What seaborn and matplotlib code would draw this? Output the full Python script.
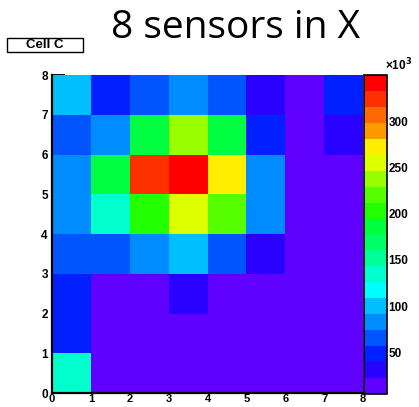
import numpy as np
import pandas as pd
import matplotlib
matplotlib.use("Agg")
import matplotlib.pyplot as plt
from matplotlib.colors import ListedColormap
from matplotlib.patches import Rectangle
import seaborn as sns

# ---- data (values in units of 10^3), rows y=0..7 (bottom to top), columns x=0..7
x_bins = [0, 1, 2, 3, 4, 5, 6, 7]
row_y0 = [134, 12, 10, 11, 9, 8, 7, 5]
row_y1 = [48, 14, 12, 13, 11, 9, 8, 6]
row_y2 = [50, 17, 19, 28, 16, 12, 9, 7]
row_y3 = [66, 64, 84, 101, 62, 32, 17, 10]
row_y4 = [86, 136, 205, 256, 222, 82, 19, 11]
row_y5 = [85, 187, 325, 350, 270, 83, 20, 12]
row_y6 = [68, 88, 185, 240, 188, 46, 18, 26]
row_y7 = [104, 47, 63, 85, 65, 30, 21, 42]
tick_values = [0, 1, 2, 3, 4, 5, 6, 7, 8]
cbar_ticks = [50, 100, 150, 200, 250, 300]
title_text = "8 sensors in X"
box_text = "Cell C"

palette = ["#6000ff", "#2a00ff", "#0020ff", "#0055ff", "#008cff",
           "#00bfff", "#00ffff", "#00ffcc", "#00ff99", "#00ff66",
           "#00ff40", "#22ff00", "#55ff00", "#99ff00", "#ddff00",
           "#ffee00", "#ff9900", "#ff6a00", "#ff3000", "#ff0000"]
cmap = ListedColormap(palette)

rows = [row_y0, row_y1, row_y2, row_y3, row_y4, row_y5, row_y6, row_y7]
df = pd.DataFrame(rows, index=x_bins, columns=x_bins)
zmin = df.values.min()
zmax = df.values.max()

sns.set_style("white")
plt.rcParams['font.family'] = ['Liberation Sans', 'DejaVu Sans']
plt.rcParams['text.color'] = 'black'
plt.rcParams['xtick.color'] = 'black'
plt.rcParams['ytick.color'] = 'black'
plt.rcParams['xtick.labelcolor'] = 'black'
plt.rcParams['ytick.labelcolor'] = 'black'

W, H = 419, 407
fig = plt.figure(figsize=(W / 100, H / 100), dpi=100)
ax = fig.add_axes([52 / W, 1 - 393 / H, 311 / W, 318 / H])
cax = fig.add_axes([364 / W, 1 - 394 / H, 23 / W, 319 / H])

sns.heatmap(df, cmap=cmap, vmin=zmin, vmax=zmax, ax=ax, cbar_ax=cax,
            xticklabels=False, yticklabels=False, linewidths=0)
ax.set_ylim(0, 8)
ax.set_xlim(0, 8)
ax.set_xlabel("")
ax.set_ylabel("")

ax.set_xticks(tick_values)
ax.set_xticklabels([str(v) for v in tick_values], fontsize=8, fontweight='bold',
                   color='black')
ax.set_yticks(tick_values)
ax.set_yticklabels([str(v) for v in tick_values], fontsize=8.5, fontweight='bold',
                   color='black')
ax.set_xticks(np.arange(0, 8.01, 0.2), minor=True)
ax.set_yticks(np.arange(0, 8.01, 0.2), minor=True)
ax.tick_params(axis='y', which='major', direction='in', length=9.5, width=1.3,
               pad=3, left=True, color='black')
ax.tick_params(axis='y', which='minor', direction='in', length=5, width=1.1,
               left=True, color='black')
ax.tick_params(axis='x', which='major', direction='in', length=5, width=1.3,
               pad=1, bottom=True, color='black')
ax.tick_params(axis='x', which='minor', direction='in', length=3.2, width=1.1,
               bottom=True, color='black')
for s in ['left', 'bottom']:
    ax.spines[s].set_visible(True)
    ax.spines[s].set_color('black')
    ax.spines[s].set_linewidth(1.6)
ax.spines['top'].set_visible(False)
ax.spines['right'].set_visible(False)

cbar = ax.collections[0].colorbar
cbar.set_ticks(cbar_ticks)
cbar.set_ticklabels([str(v) for v in cbar_ticks])
cax.tick_params(axis='y', which='major', direction='in', length=8, width=1.3,
                pad=1, right=True, labelsize=8.5, color='black', labelcolor='black')
cax.minorticks_off()
for lab in cax.get_yticklabels():
    lab.set_fontweight('bold')
cbar.outline.set_edgecolor('black')
cbar.outline.set_linewidth(1.2)

fig.text(385 / W, 1 - 70 / H, "\u00d710$^{\\mathbf{3}}$", fontsize=8.5, fontweight='bold',
         ha='left', va='baseline', color='black')

fig.text(236 / W, 1 - 38 / H, title_text, fontsize=28, family='Open Sans',
         ha='center', va='baseline', color='black')

fig.patches.append(Rectangle((7 / W, 1 - 52 / H), 76 / W, 14 / H,
                             transform=fig.transFigure, facecolor='white',
                             edgecolor='black', linewidth=1.0))
fig.text(45 / W, 1 - 45 / H, box_text, fontsize=9.5, fontweight='bold',
         ha='center', va='center', color='black')

fig.savefig("out.png", dpi=100)
